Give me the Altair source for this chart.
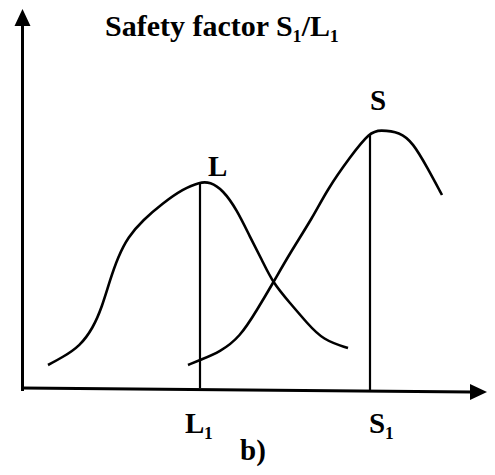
import altair as alt
import pandas as pd

# Curve L (load) and curve S (strength), in chart units
L_x = [2.6, 4.1, 5.8, 7.1, 8.0, 8.8, 9.6, 10.6, 12.1, 14.1, 16.1, 17.8, 18.8, 20.1, 21.5, 22.8, 24.0, 25.1, 26.8, 28.5, 30.1, 32.6]
L_y = [2.3, 3.1, 4.2, 6.0, 8.1, 10.8, 13.1, 15.1, 16.8, 18.5, 19.9, 20.6, 20.6, 19.8, 17.8, 15.1, 12.8, 10.5, 8.5, 6.5, 4.8, 4.0]
S_x = [16.6, 17.8, 19.8, 21.8, 23.5, 25.1, 26.8, 29.1, 30.5, 32.8, 34.8, 35.8, 37.8, 39.1, 40.5, 42.0]
S_y = [2.3, 2.8, 3.6, 5.1, 7.8, 10.5, 13.5, 17.1, 19.8, 23.1, 25.6, 25.8, 25.6, 24.5, 22.1, 19.3]

# Vertical markers at L1 and S1
mark_names = ["L1", "S1"]
mark_x = [17.8, 34.8]
mark_top = [20.5, 25.3]
mark_bottom = [0.0, -0.3]

# Labels
label_text = ["Safety factor S\u2081/L\u2081", "L", "S", "L\u2081", "S\u2081", "b)"]
label_x = [8.3, 18.6, 34.8, 16.3, 34.7, 21.8]
label_y = [35.2, 21.2, 27.8, -4.5, -4.5, -7.2]
label_size = [30, 29, 29, 29, 29, 29]

X = alt.Scale(domain=[-1.4, 46.5], nice=False, zero=False)
Y = alt.Scale(domain=[-7.9, 38.0], nice=False, zero=False)

curve_rows = []
for name, xs, ys in (("L", L_x, L_y), ("S", S_x, S_y)):
    for i, (a, b) in enumerate(zip(xs, ys)):
        curve_rows.append({"curve": name, "i": i, "x": a, "y": b})
curves_df = pd.DataFrame(curve_rows)

curves = alt.Chart(curves_df).mark_line(
    color="black", strokeWidth=2.6, interpolate="basis", clip=False
).encode(
    x=alt.X("x:Q", scale=X, axis=None),
    y=alt.Y("y:Q", scale=Y, axis=None),
    detail="curve:N",
    order="i:Q",
)

vert_df = pd.DataFrame({"name": mark_names, "x": mark_x, "y": mark_bottom, "y2": mark_top})
verts = alt.Chart(vert_df).mark_rule(color="black", strokeWidth=2.2).encode(
    x=alt.X("x:Q", scale=X, axis=None),
    y=alt.Y("y:Q", scale=Y, axis=None),
    y2="y2:Q",
)

axes_df = pd.DataFrame({
    "x": [0.05, 0.0],
    "x2": [0.05, 45.0],
    "y": [-0.3, 0.0],
    "y2": [36.5, -0.4],
})
axes = alt.Chart(axes_df).mark_rule(color="black", strokeWidth=3).encode(
    x=alt.X("x:Q", scale=X, axis=None),
    x2="x2:Q",
    y=alt.Y("y:Q", scale=Y, axis=None),
    y2="y2:Q",
)

up_df = pd.DataFrame({"x": [0.05], "y": [37.05]})
arrow_up = alt.Chart(up_df).mark_point(
    shape="M0,-1L-0.94,1L0.94,1Z", size=289, filled=True, color="black", opacity=1, clip=False
).encode(x=alt.X("x:Q", scale=X, axis=None), y=alt.Y("y:Q", scale=Y, axis=None))

right_df = pd.DataFrame({"x": [45.65], "y": [-0.4]})
arrow_right = alt.Chart(right_df).mark_point(
    shape="M1,0L-1,-0.94L-1,0.94Z", size=289, filled=True, color="black", opacity=1, clip=False
).encode(x=alt.X("x:Q", scale=X, axis=None), y=alt.Y("y:Q", scale=Y, axis=None))

text_df = pd.DataFrame({"text": label_text, "x": label_x, "y": label_y, "size": label_size})
texts = alt.Chart(text_df).mark_text(
    font="Liberation Serif", fontWeight="bold", align="left",
    baseline="alphabetic", color="black",
).encode(
    x=alt.X("x:Q", scale=X, axis=None),
    y=alt.Y("y:Q", scale=Y, axis=None),
    text="text:N",
    size=alt.Size("size:Q", scale=None, legend=None),
)

chart = alt.layer(curves, verts, axes, arrow_up, arrow_right, texts).properties(
    width=479, height=459, padding=0, autosize=alt.AutoSizeParams(type="none"),
    background="white",
).configure_view(stroke=None)

chart.save("out.html", embed_options={"renderer": "svg", "actions": False})
